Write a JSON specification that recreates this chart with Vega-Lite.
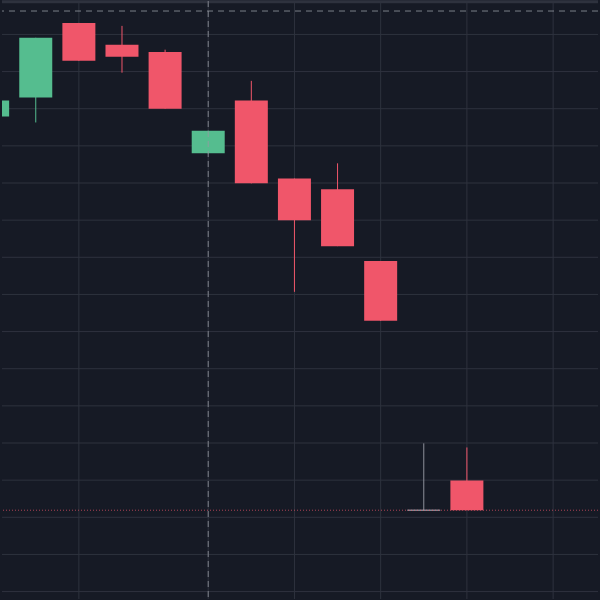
{
  "$schema": "https://vega.github.io/schema/vega-lite/v6.json",
  "width": 600,
  "height": 600,
  "padding": 0,
  "autosize": {"type": "fit", "contains": "padding"},
  "background": "#161a25",
  "config": {"view": {"stroke": null, "fill": "#161a25"}},
  "datasets": {
    "candles": [
      {"i": 1, "open": 137.9, "close": 142.2, "high": 142.2, "low": 137.9, "dir": "up"},
      {"i": 2, "open": 143.0, "close": 159.1, "high": 159.1, "low": 136.3, "dir": "up"},
      {"i": 3, "open": 163.1, "close": 152.9, "high": 163.1, "low": 152.9, "dir": "down"},
      {"i": 4, "open": 157.2, "close": 154.0, "high": 162.3, "low": 149.7, "dir": "down"},
      {"i": 5, "open": 155.3, "close": 140.0, "high": 155.9, "low": 140.0, "dir": "down"},
      {"i": 6, "open": 128.0, "close": 134.1, "high": 134.1, "low": 128.0, "dir": "up"},
      {"i": 7, "open": 142.2, "close": 119.9, "high": 147.5, "low": 119.9, "dir": "down"},
      {"i": 8, "open": 121.2, "close": 110.0, "high": 121.2, "low": 90.7, "dir": "down"},
      {"i": 9, "open": 118.3, "close": 103.0, "high": 125.3, "low": 103.0, "dir": "down"},
      {"i": 10, "open": 99.0, "close": 82.9, "high": 99.0, "low": 82.9, "dir": "down"},
      {"i": 11, "open": 31.9, "close": 31.9, "high": 49.9, "low": 31.9, "dir": "flat"},
      {"i": 12, "open": 39.9, "close": 31.9, "high": 48.8, "low": 31.9, "dir": "down"}
    ],
    "ygrid": [
      {"p": 10}, {"p": 20}, {"p": 30}, {"p": 40}, {"p": 50}, {"p": 60}, {"p": 70}, {"p": 80},
      {"p": 90}, {"p": 100}, {"p": 110}, {"p": 120}, {"p": 130}, {"p": 140}, {"p": 150}, {"p": 160}
    ],
    "xgrid": [{"t": 3}, {"t": 6}, {"t": 8}, {"t": 10}, {"t": 12}, {"t": 14}]
  },
  "layer": [
    {
      "data": {"name": "ygrid"},
      "mark": {"type": "rule", "color": "#2e323e", "strokeWidth": 1},
      "encoding": {"y": {"field": "p", "type": "quantitative", "scale": {"domain": [8, 169], "nice": false, "zero": false, "padding": 0}, "axis": null}}
    },
    {
      "data": {"name": "xgrid"},
      "mark": {"type": "rule", "color": "#2e323e", "strokeWidth": 1},
      "encoding": {"x": {"field": "t", "type": "quantitative", "scale": {"domain": [1.217, 15.041], "nice": false, "zero": false, "padding": 0}, "axis": null}}
    },
    {
      "data": {"name": "candles"},
      "mark": {"type": "rule", "strokeWidth": 1, "clip": true},
      "encoding": {
        "x": {"field": "i", "type": "quantitative"},
        "y": {"field": "low", "type": "quantitative"},
        "y2": {"field": "high"},
        "color": {"field": "dir", "type": "nominal", "scale": {"domain": ["up", "down", "flat"], "range": ["#55bd8f", "#f0566a", "#8d909a"]}, "legend": null}
      }
    },
    {
      "data": {"name": "candles"},
      "transform": [{"filter": "datum.dir != 'flat'"}],
      "mark": {"type": "bar", "width": 33, "clip": true},
      "encoding": {
        "x": {"field": "i", "type": "quantitative"},
        "y": {"field": "open", "type": "quantitative"},
        "y2": {"field": "close"},
        "color": {"field": "dir", "type": "nominal", "legend": null}
      }
    },
    {
      "data": {"name": "candles"},
      "transform": [{"filter": "datum.dir == 'flat'"}],
      "mark": {"type": "tick", "orient": "horizontal", "size": 33, "thickness": 1.5, "color": "#b2b5be"},
      "encoding": {
        "x": {"field": "i", "type": "quantitative"},
        "y": {"field": "close", "type": "quantitative"}
      }
    },
    {
      "data": {"values": [{"price": 31.9}]},
      "mark": {"type": "rule", "color": "#f0566a", "strokeWidth": 1, "strokeDash": [1, 2], "opacity": 0.7},
      "encoding": {"y": {"field": "price", "type": "quantitative"}}
    },
    {
      "data": {"values": [{"price": 166.3}]},
      "mark": {"type": "rule", "color": "#9598a1", "strokeWidth": 1, "strokeDash": [6, 5], "opacity": 0.8},
      "encoding": {"y": {"field": "price", "type": "quantitative"}}
    },
    {
      "data": {"values": [{"price": 168.8}]},
      "mark": {"type": "rule", "color": "#2e323e", "strokeWidth": 3},
      "encoding": {"y": {"field": "price", "type": "quantitative"}}
    },
    {
      "data": {"values": [{"t": 6}]},
      "mark": {"type": "rule", "color": "#9598a1", "strokeWidth": 1, "strokeDash": [6, 4], "opacity": 0.8},
      "encoding": {"x": {"field": "t", "type": "quantitative"}}
    }
  ]
}
